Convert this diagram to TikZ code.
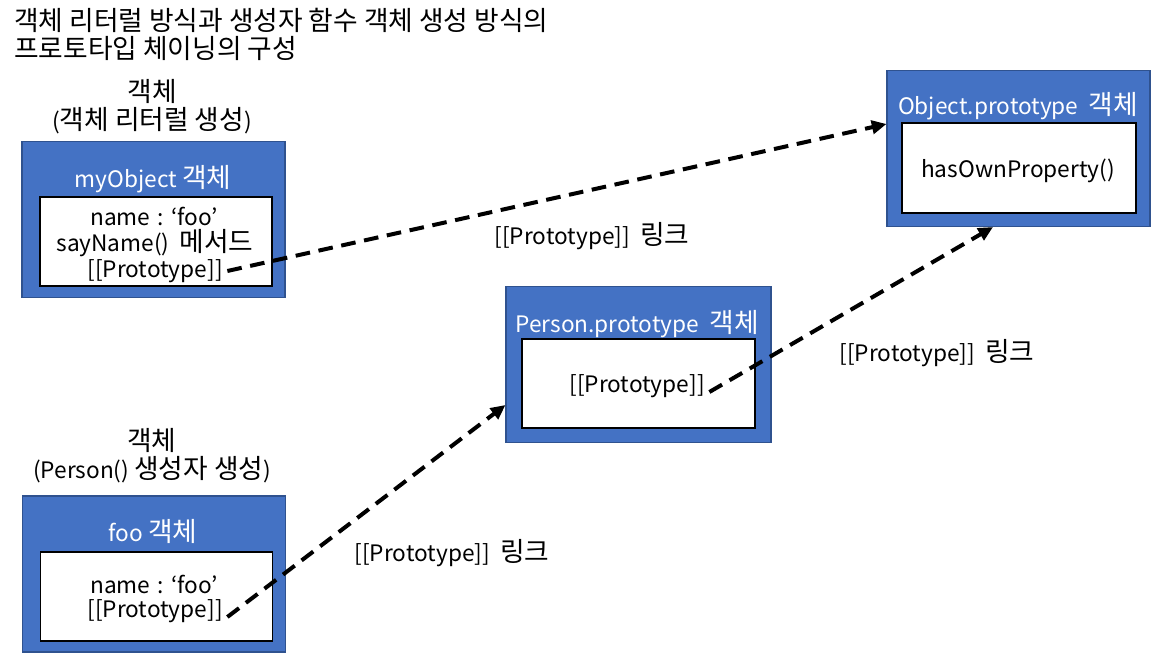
\documentclass[tikz,border=0pt]{standalone}
\usepackage{fontspec}
\setmainfont{Noto Sans CJK KR}
\newfontfamily\kr[Scale=1.18]{Noto Sans CJK KR}
\usetikzlibrary{arrows.meta, positioning, calc}

\begin{document}
\begin{tikzpicture}[
    x=0.75pt, y=-0.75pt,
    every node/.style={font=\fontsize{17}{21}\selectfont},
]

\definecolor{boxblue}{HTML}{4472C4}   % the object frames
\definecolor{boxedge}{HTML}{2F528F}
\definecolor{linkcolor}{HTML}{000000}

\def\cgap{\hspace{0.33em}}   % space round the colon

\tikzset{
  objbox/.style={fill=boxblue, draw=boxedge, line width=0.8pt,
                 minimum width=263*0.75pt, minimum height=156*0.75pt, inner sep=0pt},
  slotbox/.style={fill=white, draw=black, line width=0.8pt,
                  minimum width=232*0.75pt, minimum height=89*0.75pt, inner sep=0pt},
  boxtitle/.style={text=white},
  caption/.style={align=center, inner sep=0pt},
  protolink/.style={linkcolor, line width=3pt, dash pattern=on 11pt off 6.5pt,
                    -{Triangle[length=11pt, width=10pt]}},
}

% ================================================================
% Coordinates are screen pixels: x to the right, y downwards.
%   myObject          frame x 22..285,   y 142..297
%   foo               frame x 22..285,   y 495..652
%   Person.prototype  frame x 506..771,  y 286..443
%   Object.prototype  frame x 887..1150, y 71..226
% Hangul is set through \kr, a little larger than the Latin text.
% ================================================================
\useasboundingbox (0,0) rectangle (1153,653);

% ---------------------------------------------------------------- heading
\node[anchor=north west, align=left, inner sep=0pt] (heading) at (14,8)
    {\kr 객체 리터럴 방식과 생성자 함수 객체 생성 방식의\\\kr 프로토타입 체이닝의 구성};

% ---------------------------------------------------------------- frames
\node[objbox]  (myobj)    at (153.5, 219.5) {};
\node[slotbox] (myslot)   at (156, 241.5) {};
\node[objbox]  (foobj)    at (154, 574) {};
\node[slotbox] (fooslot)  at (156.5, 596.5) {};
\node[objbox, minimum width=265*0.75pt] (perobj) at (638.5, 364.5) {};
\node[slotbox, minimum width=233*0.75pt] (perslot) at (638.5, 383.5) {};
\node[objbox]  (objobj)   at (1018.5, 148.5) {};
\node[slotbox, minimum width=234*0.75pt, minimum height=90*0.75pt]
               (objslot)  at (1019, 168) {};

% ---------------------------------------------------------------- captions
\node[caption] (mycap)  at (152, 107) {{\kr 객체}\\({\kr 객체 리터럴 생성})};
\node[caption] (foocap) at (152, 456) {{\kr 객체}\\(Person() {\kr 생성자 생성})};

% ---------------------------------------------------------------- box contents
\node[boxtitle] (mytitle)  at (153, 179) {myObject {\kr 객체}};
\node (myname)  at (154, 216) {name\cgap:\cgap‘foo’};
\node (mysay)   at (155, 243) {sayName()~~{\kr 메서드}};
\node (myproto) at (155, 271) {[[Prototype]]};

\node[boxtitle] (footitle) at (153, 531) {foo {\kr 객체}};
\node (fooname)  at (154, 584) {name\cgap:\cgap‘foo’};
\node (fooproto) at (155, 611) {[[Prototype]]};

\node[boxtitle] (pertitle) at (637, 324) {Person.prototype~~{\kr 객체}};
\node (perproto) at (637, 386) {[[Prototype]]};

\node[boxtitle] (objtitle) at (1018, 106) {Object.prototype~~{\kr 객체}};
\node (objhas) at (1018, 171) {hasOwnProperty()};

% ---------------------------------------------------------------- links
\draw[protolink] (myproto.east) -- ($(objobj.west)+(0,-24.5)$);
\draw[protolink] ($(fooproto.east)+(0,6)$) -- ($(perobj.west)+(0,40.5)$);
\draw[protolink] ($(perproto.east)+(0,6)$) -- ($(objobj.south)+(-25.5,0)$);

\node (link1) at (592, 236) {[[Prototype]]~~{\kr 링크}};
\node (link2) at (937, 353) {[[Prototype]]~~{\kr 링크}};
\node (link3) at (452, 553) {[[Prototype]]~~{\kr 링크}};

\end{tikzpicture}
\end{document}
